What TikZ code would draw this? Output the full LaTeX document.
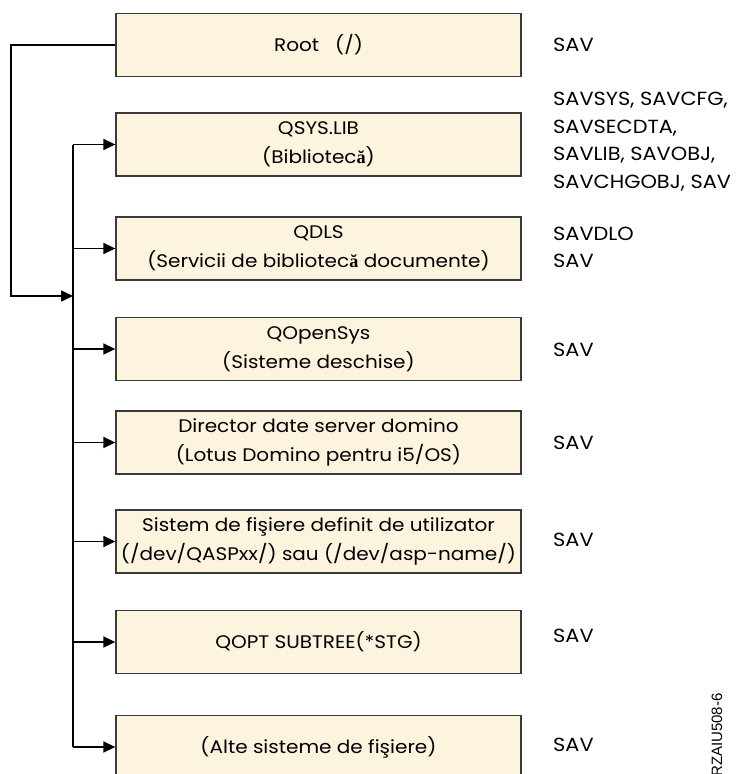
\documentclass[tikz,border=0pt]{standalone}
\usepackage{fontspec}
\setmainfont{Poppins}[FakeStretch=1.1]
\newfontfamily\serifbold{Liberation Serif}
\newfontfamily\labelfont{Liberation Sans}
\usetikzlibrary{arrows.meta}
\definecolor{boxfill}{HTML}{FCF4DF}
\definecolor{boxline}{HTML}{3A3A3A}
\newcommand{\abrv}{{\serifbold\bfseries ă}}
\tikzset{
  fsbox/.style={draw=boxline, line width=1.3pt, fill=boxfill,
    minimum width=405pt, minimum height=63pt, inner sep=0pt,
    align=center, font=\fontsize{18.2}{29}\selectfont},
  cmd/.style={anchor=west, align=left, inner sep=0pt,
    font=\fontsize{19}{27.5}\selectfont},
  link/.style={line width=1.6pt, black},
  arr/.style={link, -{Triangle[length=12pt,width=11pt]}}
}
\begin{document}
\begin{tikzpicture}[x=1pt,y=-1pt]
  \useasboundingbox (0,0) rectangle (737,774);
  \clip (0,0) rectangle (737,774);

  % file system boxes
  \node[fsbox] (root) at (318.5,45)  {Root\ \ \ (/)};
  \node[fsbox] (qsys) at (318.5,144.5) {QSYS.LIB\\(Bibliotec\abrv)};
  \node[fsbox] (qdls) at (318.5,248.5) {QDLS\\(Servicii de bibliotec\abrv{} documente)};
  \node[fsbox] (qopen) at (318.5,349) {QOpenSys\\(Sisteme deschise)};
  \node[fsbox] (domino) at (318.5,442.5) {Director date server domino\\(Lotus Domino pentru i5/OS)};
  \node[fsbox] (udfs) at (318.5,541.5) {Sistem de fişiere definit de utilizator\\(/dev/QASPxx/) sau (/dev/asp-name/)};
  \node[fsbox] (qopt) at (318.5,642) {QOPT SUBTREE(*STG)};
  \node[fsbox] (other) at (318.5,747) {(Alte sisteme de fişiere)};

  % save commands
  \node[cmd] (c1) at (553,45) {SAV};
  \node[cmd] (c2) at (553,141.5) {SAVSYS, SAVCFG,\\SAVSECDTA,\\SAVLIB, SAVOBJ,\\SAVCHGOBJ, SAV};
  \node[cmd] (c3) at (553,247.5) {SAVDLO\\SAV};
  \node[cmd] (c4) at (553,350) {SAV};
  \node[cmd] (c5) at (553,443) {SAV};
  \node[cmd] (c6) at (553,540) {SAV};
  \node[cmd] (c7) at (553,636) {SAV};
  \node[cmd] (c8) at (553,745) {SAV};

  % connectors
  \coordinate (tk) at (73,0);
  \coordinate (fl) at (11,296);
  \draw[link] (tk |- qsys.west) -- (tk |- other.west);
  \draw[arr] (root.west) -| (fl) -- (tk |- fl);
  \foreach \b in {qsys,qdls,qopen,domino,udfs,qopt,other}
    \draw[arr] (tk |- \b.west) -- (\b.west);

  % figure tag
  \node[rotate=90, anchor=west, inner sep=0pt,
        font=\labelfont\fontsize{15}{17}\selectfont] (tag) at (717,777) {RZAIU508-6};
\end{tikzpicture}
\end{document}
